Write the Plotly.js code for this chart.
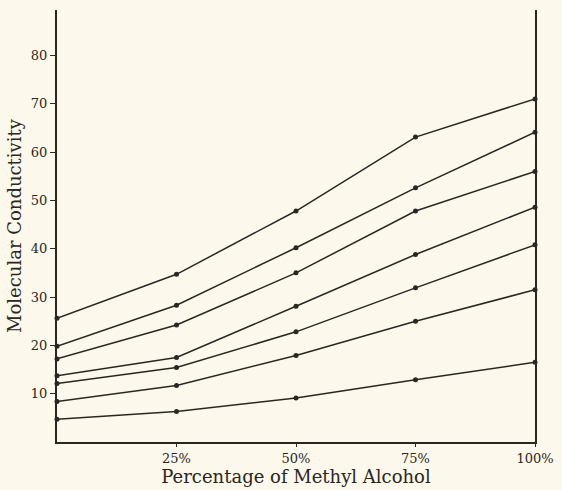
<!DOCTYPE html>
<html>
<head>
<meta charset="utf-8">
<script src="https://cdn.plot.ly/plotly-3.0.1.min.js"></script>
<style>html,body{margin:0;padding:0;background:#fdf8ec;}#chart{width:562px;height:490px;}</style>
</head>
<body>
<div id="chart"></div>
<script>
const percentages = [0, 25, 50, 75, 100];
const tickLabels = ["25%", "50%", "75%", "100%"];
const tickVals = [25, 50, 75, 100];
const yTickVals = [10, 20, 30, 40, 50, 60, 70, 80];
const series1 = [25.6, 34.7, 47.8, 63.1, 71.0];
const series2 = [19.8, 28.3, 40.2, 52.6, 64.1];
const series3 = [17.2, 24.2, 35.0, 47.8, 56.0];
const series4 = [13.7, 17.5, 28.1, 38.8, 48.6];
const series5 = [12.1, 15.4, 22.8, 31.9, 40.8];
const series6 = [8.4, 11.7, 17.9, 25.0, 31.5];
const series7 = [4.7, 6.3, 9.1, 12.9, 16.5];

const allSeries = [series1, series2, series3, series4, series5, series6, series7];
const ink = "#2a2622";
const traces = allSeries.map(s => ({
  x: percentages, y: s, type: "scatter", mode: "lines+markers",
  line: {color: ink, width: 1.5},
  marker: {color: ink, size: 5},
  cliponaxis: false,
  hoverinfo: "skip"
}));

const serif = "DejaVu Serif, Liberation Serif, serif";
const layout = {
  width: 562, height: 490,
  paper_bgcolor: "#fdf8ec", plot_bgcolor: "#fdf8ec",
  margin: {l: 57, r: 27, t: 10, b: 48},
  showlegend: false,
  font: {family: serif, color: ink},
  xaxis: {
    range: [0, 100], showgrid: false, zeroline: false,
    showline: true, linecolor: ink, linewidth: 2,
    tickmode: "array", tickvals: tickVals, ticktext: tickLabels,
    ticks: "outside", ticklen: 3, tickcolor: ink,
    tickfont: {size: 13, family: serif, color: ink},
    title: {text: "Percentage of Methyl Alcohol", font: {size: 18, family: serif, color: ink}, standoff: 3}
  },
  yaxis: {
    range: [0, 89.4], showgrid: false, zeroline: false,
    showline: true, linecolor: ink, linewidth: 2, mirror: true,
    tickmode: "array", tickvals: yTickVals,
    ticks: "outside", ticklen: 5, tickcolor: ink,
    tickfont: {size: 13, family: serif, color: ink},
    title: {text: "Molecular Conductivity", font: {size: 18, family: serif, color: ink}, standoff: 5}
  }
};
Plotly.newPlot("chart", traces, layout, {displayModeBar: false, staticPlot: true});
</script>
</body>
</html>
